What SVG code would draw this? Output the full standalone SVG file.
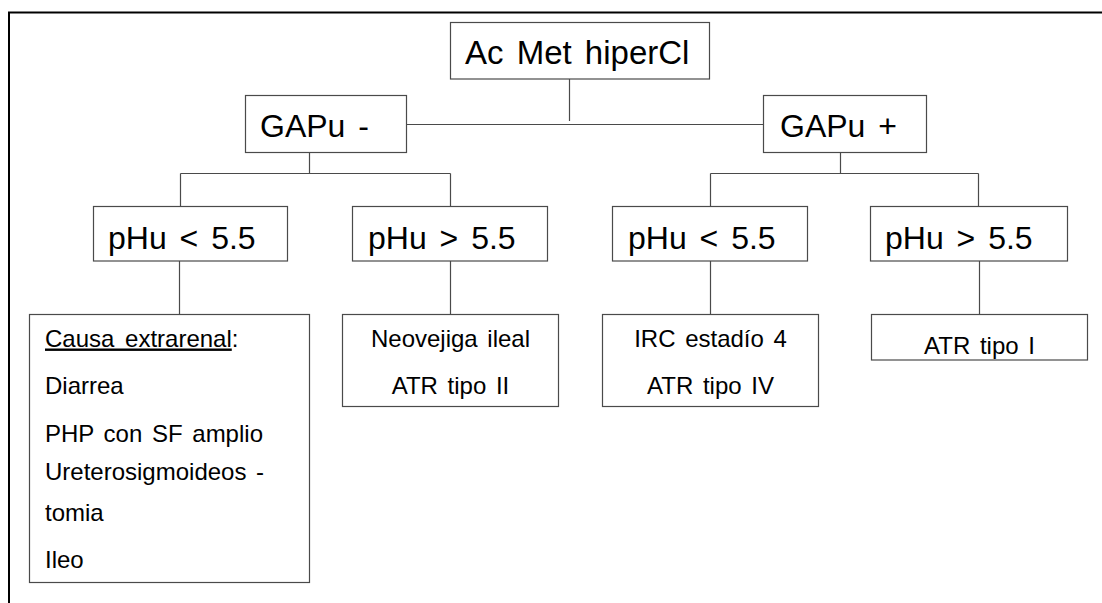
<svg xmlns="http://www.w3.org/2000/svg" width="1102" height="603" viewBox="0 0 1102 603">
  <style>
    .box { fill: #ffffff; stroke: #4a4a4a; stroke-width: 1.2; }
    .wire { fill: none; stroke: #4a4a4a; stroke-width: 1.2; }
    .big { font-family: "Liberation Sans", Arial, sans-serif; font-size: 32px; fill: #000; word-spacing: 4px; }
    .small { font-family: "Liberation Sans", Arial, sans-serif; font-size: 24px; fill: #000; word-spacing: 3px; }
    .mid { text-anchor: middle; }
  </style>
  <rect x="0" y="0" width="1102" height="603" fill="#ffffff"/>
  <!-- page frame -->
  <path d="M9,603 V12.5 H1102" fill="none" stroke="#000" stroke-width="2"/>

  <g id="connectors">
    <path class="wire" d="M569.5,79 V121"/>
    <path class="wire" d="M406.5,124.5 H763.5"/>
    <path class="wire" d="M309.5,152 V173.5 M180.5,173.5 H450.5 M180.5,173.5 V207 M450.5,173.5 V207"/>
    <path class="wire" d="M840.5,152 V173.5 M710.5,173.5 H978.5 M710.5,173.5 V207 M978.5,173.5 V207"/>
    <path class="wire" d="M179.5,261 V314.5"/>
    <path class="wire" d="M450.5,261 V314.5"/>
    <path class="wire" d="M710.5,261 V314.5"/>
    <path class="wire" d="M979.5,261 V314.5"/>
  </g>

  <g id="root">
    <rect class="box" x="450.5" y="22.5" width="259" height="56.5"/>
    <text class="big" x="465" y="64" style="font-size:33px">Ac Met hiperCl</text>
  </g>

  <g id="gap-neg">
    <rect class="box" x="245.5" y="95.5" width="161" height="57"/>
    <text class="big" x="260" y="137">GAPu -</text>
  </g>
  <g id="gap-pos">
    <rect class="box" x="763.5" y="95.5" width="163" height="57"/>
    <text class="big" x="780" y="137">GAPu +</text>
  </g>

  <g id="ph-neg-low">
    <rect class="box" x="93.5" y="206.5" width="194" height="54.5"/>
    <text class="big" x="108" y="249">pHu &lt; 5.5</text>
  </g>
  <g id="ph-neg-high">
    <rect class="box" x="352.5" y="206.5" width="195" height="54.5"/>
    <text class="big" x="368" y="249">pHu &gt; 5.5</text>
  </g>
  <g id="ph-pos-low">
    <rect class="box" x="612.5" y="206.5" width="195" height="54.5"/>
    <text class="big" x="628" y="249">pHu &lt; 5.5</text>
  </g>
  <g id="ph-pos-high">
    <rect class="box" x="870.5" y="206.5" width="197" height="54.5"/>
    <text class="big" x="885" y="249">pHu &gt; 5.5</text>
  </g>

  <g id="causes-extrarenal">
    <rect class="box" x="29.5" y="314.5" width="280" height="268"/>
    <text class="small" x="45" y="346.5" style="word-spacing:4px"><tspan text-decoration="underline">Causa extrarenal</tspan>:</text>
    <text class="small" x="45" y="394">Diarrea</text>
    <text class="small" x="45" y="441.5">PHP con SF amplio</text>
    <text class="small" x="45" y="480">Ureterosigmoideos -</text>
    <text class="small" x="45" y="520.5">tomia</text>
    <text class="small" x="45" y="568">Ileo</text>
  </g>

  <g id="causes-ph-high-neg">
    <rect class="box" x="342.5" y="314.5" width="216" height="92"/>
    <text class="small mid" x="450.5" y="346.5">Neovejiga ileal</text>
    <text class="small mid" x="450.5" y="394">ATR tipo II</text>
  </g>

  <g id="causes-ph-low-pos">
    <rect class="box" x="602.5" y="314.5" width="216" height="92"/>
    <text class="small mid" x="710.5" y="346.5">IRC estadío 4</text>
    <text class="small mid" x="710.5" y="394">ATR tipo IV</text>
  </g>

  <g id="causes-ph-high-pos">
    <rect class="box" x="871.5" y="314.5" width="216" height="45.5"/>
    <text class="small mid" x="979.5" y="354">ATR tipo I</text>
  </g>
</svg>
